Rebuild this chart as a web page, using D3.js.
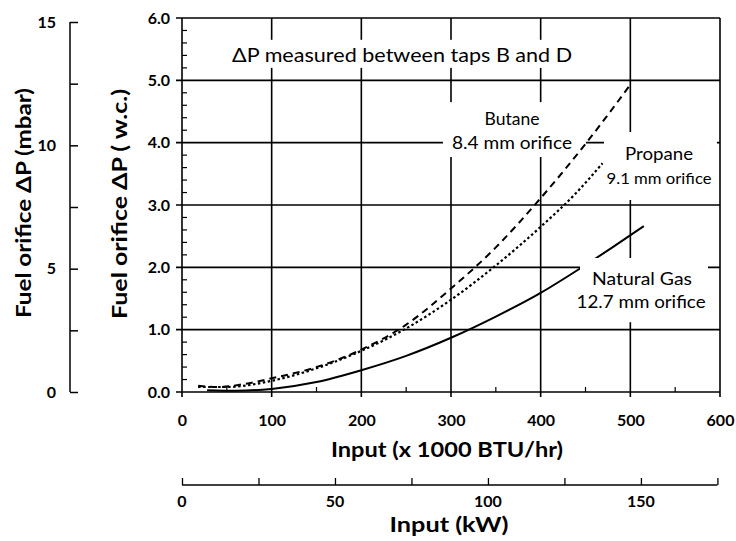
<!DOCTYPE html>
<html>
<head>
<meta charset="utf-8">
<script src="https://cdn.jsdelivr.net/npm/d3@7"></script>
<style>
  html, body { margin: 0; padding: 0; background: #fff; }
  svg { display: block; font-family: Lato, "Open Sans", sans-serif; }
</style>
</head>
<body>
<svg id="chart" width="736" height="541"></svg>
<script>
// ---------- data ----------
const btuTicks = [0, 100, 200, 300, 400, 500, 600];
const wcTicks = [0, 1, 2, 3, 4, 5, 6];
const mbarTicks = [0, 5, 10, 15];
const kwTicks = [0, 50, 100, 150];

const butaneX = [18, 40, 70, 100, 150, 200, 250, 300, 350, 400, 450, 500];
const butaneY = [0.10, 0.08, 0.13, 0.22, 0.40, 0.68, 1.08, 1.66, 2.32, 3.11, 3.98, 4.93];

const propaneX = [18, 50, 100, 150, 200, 250, 300, 350, 400, 440, 469];
const propaneY = [0.08, 0.08, 0.18, 0.38, 0.66, 1.02, 1.48, 2.03, 2.65, 3.20, 3.67];

const gasX = [28, 60, 100, 150, 200, 250, 300, 350, 400, 446, 480, 515];
const gasY = [0.03, 0.02, 0.05, 0.16, 0.35, 0.58, 0.87, 1.21, 1.59, 2.00, 2.32, 2.66];

const KW_PER_KBTU = 1 / 3.412;

// annotation texts (positions in data units: x in 1000 BTU/hr, y in "w.c.)
const noteTexts = ["\u0394P measured between taps B and D", "Butane", "8.4 mm orifice",
  "Propane", "9.1 mm orifice", "Natural Gas", "12.7 mm orifice"];
const noteX = [245.5, 368, 368, 532, 532, 513, 512];
const noteY = [5.3, 4.28, 3.9, 3.72, 3.34, 1.72, 1.35];

// ---------- layout ----------
const svg = d3.select("#chart");
const x = d3.scaleLinear().domain([0, 600]).range([182, 720]);
const y = d3.scaleLinear().domain([0, 6]).range([392, 18]);
const yMbar = d3.scaleLinear().domain([0, 15]).range([392, 22]);
const xKw = d3.scaleLinear().domain([0, 600 * KW_PER_KBTU]).range([182, 720]);

const ink = "#000";

// ---------- grid ----------
const grid = svg.append("g").attr("stroke", ink).attr("stroke-width", 1.6);
wcTicks.filter(d => d > 0).forEach(d => {
  grid.append("line").attr("x1", x(0) - 6).attr("x2", x(600))
    .attr("y1", y(d)).attr("y2", y(d));
});
btuTicks.forEach(d => {
  grid.append("line").attr("x1", x(d)).attr("x2", x(d))
    .attr("y1", y(6)).attr("y2", y(0) + 5);
});
grid.append("line").attr("x1", x(0) - 6).attr("x2", x(600))
  .attr("y1", y(0)).attr("y2", y(0));

// minor ticks
const minorY = d3.range(0, 6.0001, 0.2).filter(v => Math.abs(v - Math.round(v)) > 1e-6);
minorY.forEach(v => {
  grid.append("line").attr("x1", x(0)).attr("x2", x(0) + 5)
    .attr("y1", y(v)).attr("y2", y(v)).attr("stroke-width", 1.2);
});
d3.range(50, 600, 100).forEach(v => {
  grid.append("line").attr("x1", x(v)).attr("x2", x(v))
    .attr("y1", y(0)).attr("y2", y(0) - 5).attr("stroke-width", 1.2);
});

// ---------- tick labels ----------
const tickFont = 16;
const wcAxis = d3.axisLeft(y).tickValues(wcTicks).tickFormat(d3.format(".1f")).tickSize(0).tickPadding(12);
const gWc = svg.append("g").attr("transform", `translate(${x(0)},0)`).call(wcAxis);
gWc.select(".domain").remove();
gWc.selectAll("text").attr("font-family", "Lato, sans-serif").attr("font-weight", "bold")
  .attr("font-size", tickFont).attr("fill", ink);

const btuAxis = d3.axisBottom(x).tickValues(btuTicks).tickFormat(d3.format("d")).tickSize(0).tickPadding(23);
const gBtu = svg.append("g").attr("transform", `translate(0,${y(0)})`).call(btuAxis);
gBtu.select(".domain").remove();
gBtu.selectAll("text").attr("font-family", "Lato, sans-serif").attr("font-weight", "bold")
  .attr("font-size", tickFont).attr("fill", ink);

// ---------- mbar axis ----------
const mbarAxis = d3.axisRight(yMbar).tickValues(d3.range(0, 15.01, 2.5)).tickSize(8).tickFormat("");
const gMbar = svg.append("g").attr("transform", "translate(70,0)").call(mbarAxis);
gMbar.select(".domain").attr("stroke", ink).attr("stroke-width", 1.5).attr("d", `M0,${yMbar(15)}V${yMbar(0)}`);
gMbar.selectAll("line").attr("stroke", ink).attr("stroke-width", 1.5);
svg.append("g").selectAll("text").data(mbarTicks).join("text")
  .attr("x", 56).attr("y", d => yMbar(d)).attr("dy", "0.36em")
  .attr("text-anchor", "end").attr("font-weight", "bold").attr("font-size", tickFont)
  .attr("fill", ink).text(d => d);

// ---------- kW axis ----------
const kwY = 485;
const kwAxis = d3.axisTop(xKw).tickValues(d3.range(0, 176, 25)).tickSize(7).tickFormat("");
const gKw = svg.append("g").attr("transform", `translate(0,${kwY})`).call(kwAxis);
gKw.select(".domain").attr("stroke", ink).attr("stroke-width", 1.5).attr("d", `M${xKw(0)},0H${xKw(175)}`);
gKw.selectAll("line").attr("stroke", ink).attr("stroke-width", 1.3);
svg.append("g").selectAll("text").data(kwTicks).join("text")
  .attr("x", d => xKw(d)).attr("y", kwY + 22)
  .attr("text-anchor", "middle").attr("font-weight", "bold").attr("font-size", tickFont)
  .attr("fill", ink).text(d => d);

// ---------- axis titles ----------
function title(tf, txt, len) {
  svg.append("text").attr("transform", tf).attr("text-anchor", "middle")
    .attr("font-weight", "bold").attr("font-size", 20).attr("fill", ink)
    .attr("textLength", len).attr("lengthAdjust", "spacingAndGlyphs").text(txt);
}
title("translate(447,457)", "Input (x 1000 BTU/hr)", 232);
title("translate(449,532)", "Input (kW)", 119);
title("translate(127,204) rotate(-90)", "Fuel orifice \u0394P ( w.c.)", 230);
title("translate(31,203) rotate(-90)", "Fuel orifice \u0394P (mbar)", 230);

// ---------- label masks (drawn over grid) ----------
function mask(g, x0, x1, y0, y1) {
  g.append("rect").attr("x", x(x0)).attr("y", y(y0))
    .attr("width", x(x1) - x(x0)).attr("height", y(y1) - y(y0)).attr("fill", "#fff");
}
const masks = svg.append("g");
mask(masks, 48, 441.6, 5.65, 5.2);
mask(masks, 291, 450.5, 4.65, 3.77);
mask(masks, 470.6, 596.6, 4.17, 3.08);

// ---------- curves ----------
const line = d3.line().x(d => x(d[0])).y(d => y(d[1])).curve(d3.curveMonotoneX);
const series = [
  { xs: butaneX, ys: butaneY, dash: "7,5", w: 2 },
  { xs: propaneX, ys: propaneY, dash: "2.5,2.5", w: 2.2 },
  { xs: gasX, ys: gasY, dash: null, w: 2 }
];
series.forEach(s => {
  svg.append("path").datum(s.xs.map((v, i) => [v, s.ys[i]]))
    .attr("d", line).attr("fill", "none").attr("stroke", ink)
    .attr("stroke-width", s.w).attr("stroke-dasharray", s.dash);
});

// natural gas label mask hides part of the curve, as in the original
mask(svg, 443.9, 586.6, 2.15, 1.12);

// ---------- annotations ----------
const noteSize = [19, 17, 17, 17, 16, 17, 17];
const noteLen = [340, 55, 120, 68, 105, 100, 129];
svg.append("g").attr("fill", ink).attr("text-anchor", "middle")
  .selectAll("text").data(noteTexts).join("text")
  .attr("x", (d, i) => x(noteX[i])).attr("y", (d, i) => y(noteY[i]))
  .attr("font-size", (d, i) => noteSize[i])
  .attr("textLength", (d, i) => noteLen[i]).attr("lengthAdjust", "spacingAndGlyphs")
  .text(d => d);
</script>
</body>
</html>
